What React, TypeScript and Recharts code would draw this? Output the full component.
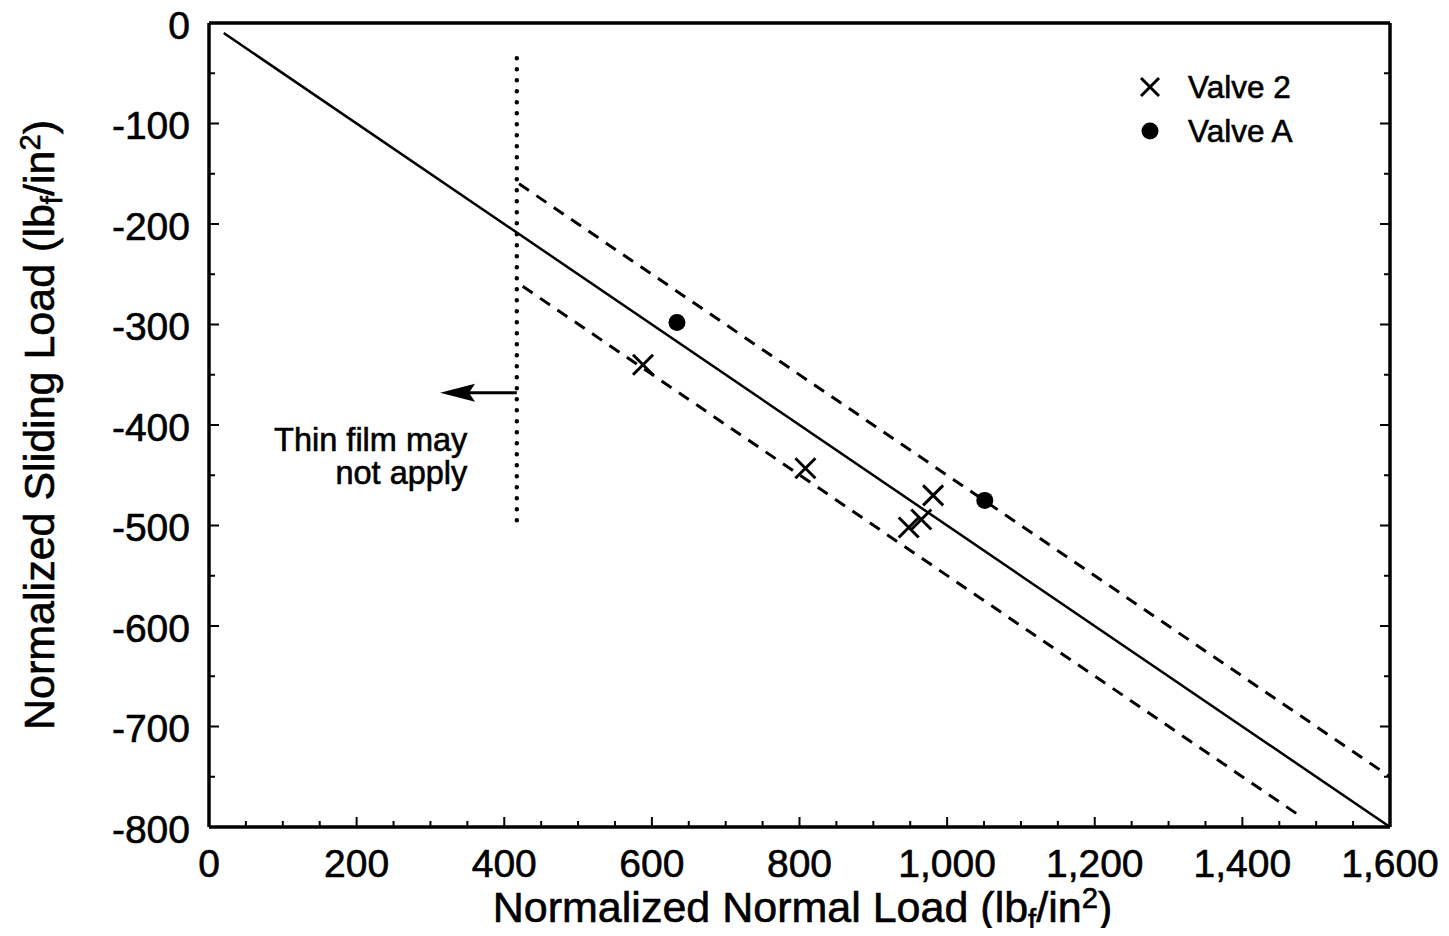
import React from "react";
import { ComposedChart, Scatter, XAxis, YAxis, Legend } from "recharts";

const FONT = '"Liberation Sans", Arial, Helvetica, sans-serif';

// tick positions (minor every 50, labelled ones below)
const xTicks = [
  0, 50, 100, 150, 200, 250, 300, 350, 400, 450, 500, 550, 600, 650, 700, 750, 800,
  850, 900, 950, 1000, 1050, 1100, 1150, 1200, 1250, 1300, 1350, 1400, 1450, 1500, 1550, 1600,
];
const xLabelled = [0, 200, 400, 600, 800, 1000, 1200, 1400, 1600];
const yTicks = [
  -800, -750, -700, -650, -600, -550, -500, -450, -400, -350, -300, -250, -200, -150, -100, -50, 0,
];
const yLabelled = [-800, -700, -600, -500, -400, -300, -200, -100, 0];

// measured points
const valve2 = [
  { x: 588, y: -340 },
  { x: 808, y: -443 },
  { x: 981, y: -470 },
  { x: 965, y: -494 },
  { x: 948, y: -502 },
];
const valveA = [
  { x: 634, y: -298 },
  { x: 1051, y: -475 },
];

// fit line and +/- band
const fitLine = [
  { x: 20, y: -10 },
  { x: 1600, y: -800 },
];
const upperBand = [
  { x: 420, y: -160 },
  { x: 1600, y: -750 },
];
const lowerBand = [
  { x: 425, y: -262 },
  { x: 1480, y: -790 },
];

// thin film limit + annotation
const thinFilmLimit = [
  { x: 417, y: -35 },
  { x: 417, y: -500 },
];
const arrowShaft = [
  { x: 417, y: -368 },
  { x: 340, y: -368 },
];
const arrowTip = [{ x: 313, y: -368 }];
const noteAnchor = [{ x: 350, y: -426 }];
const noteLines = ["Thin film may", "not apply"];

// scanned text looks a little heavier than plain Arial
const TXT = { fontFamily: FONT, fill: "#000", stroke: "#000", strokeWidth: 0.6 };

const Empty = () => <g />;

const CrossShape = (p: any) => (
  <g stroke="#000" strokeWidth={3}>
    <line x1={p.cx - 10} y1={p.cy - 10} x2={p.cx + 10} y2={p.cy + 10} />
    <line x1={p.cx - 10} y1={p.cy + 10} x2={p.cx + 10} y2={p.cy - 10} />
  </g>
);

const DotShape = (p: any) => <circle cx={p.cx} cy={p.cy} r={8.5} fill="#000" />;

const ArrowHead = (p: any) => (
  <polygon
    points={`${p.cx},${p.cy} ${p.cx + 35},${p.cy - 9} ${p.cx + 29},${p.cy} ${p.cx + 35},${p.cy + 9}`}
    fill="#000"
  />
);

const NoteText = (p: any) => (
  <text x={p.cx} y={p.cy} textAnchor="end" fontSize={32.5} {...TXT}>
    {noteLines.map((t, i) => (
      <tspan key={t} x={p.cx} dy={i === 0 ? 0 : 33}>
        {t}
      </tspan>
    ))}
  </text>
);

const BottomTick = (p: any) => {
  const v = p.payload.value;
  const lab = xLabelled.includes(v);
  return (
    <g>
      <line x1={p.x} x2={p.x} y1={p.y} y2={p.y - (lab ? 10 : 6)} stroke="#000" strokeWidth={2} />
      {lab && (
        <text x={p.x} y={p.y + 50} textAnchor="middle" fontSize={39} {...TXT}>
          {v.toLocaleString("en-US")}
        </text>
      )}
    </g>
  );
};

const TopTick = (p: any) => {
  const lab = xLabelled.includes(p.payload.value);
  return <line x1={p.x} x2={p.x} y1={p.y} y2={p.y + (lab ? 10 : 6)} stroke="#000" strokeWidth={2} />;
};

const LeftTick = (p: any) => {
  const v = p.payload.value;
  const lab = yLabelled.includes(v);
  return (
    <g>
      <line x1={p.x} x2={p.x + (lab ? 10 : 6)} y1={p.y} y2={p.y} stroke="#000" strokeWidth={2} />
      {lab && (
        <text x={p.x - 19} y={p.y} dy="0.41em" textAnchor="end" fontSize={39} {...TXT}>
          {v}
        </text>
      )}
    </g>
  );
};

const RightTick = (p: any) => {
  const lab = yLabelled.includes(p.payload.value);
  return <line x1={p.x} x2={p.x - (lab ? 10 : 6)} y1={p.y} y2={p.y} stroke="#000" strokeWidth={2} />;
};

const UnitText = ({ name }: { name: string }) => (
  <>
    <tspan>{name} (lb</tspan>
    <tspan dy={8} fontSize="68%">f</tspan>
    <tspan dy={-8}>/in</tspan>
    <tspan dy={-14} fontSize="68%">2</tspan>
    <tspan dy={14}>)</tspan>
  </>
);

const XLabel = (p: any) => {
  const vb = p.viewBox;
  return (
    <text x={vb.x + vb.width / 2 + 3} y={vb.y + 95} textAnchor="middle" fontSize={43} {...TXT}>
      <UnitText name="Normalized Normal Load" />
    </text>
  );
};

const YLabel = (p: any) => {
  const vb = p.viewBox;
  const cx = 54;
  const cy = vb.y + vb.height / 2;
  return (
    <text x={cx} y={cy} transform={`rotate(-90 ${cx} ${cy})`} textAnchor="middle" fontSize={43} {...TXT}>
      <UnitText name="Normalized Sliding Load" />
    </text>
  );
};

const legendItems = [
  { name: "Valve 2", icon: "cross" },
  { name: "Valve A", icon: "dot" },
];

const LegendBox = () => (
  <div style={{ fontFamily: FONT, fontSize: 31.5, color: "#000", WebkitTextStroke: "0.6px #000" }}>
    {legendItems.map((it) => (
      <div key={it.name} style={{ display: "flex", alignItems: "center", height: 44 }}>
        <svg width={24} height={24} style={{ marginRight: 26 }}>
          {it.icon === "cross" ? (
            <g stroke="#000" strokeWidth={3}>
              <line x1={3} y1={3} x2={21} y2={21} />
              <line x1={3} y1={21} x2={21} y2={3} />
            </g>
          ) : (
            <circle cx={12} cy={12} r={8.5} fill="#000" />
          )}
        </svg>
        <span>{it.name}</span>
      </div>
    ))}
  </div>
);

export default function App() {
  // negative margins cancel the body margin so the chart fills the whole page
  return (
    <div style={{ width: 1441, height: 936, margin: "-8px 0 -8px -8px", background: "#fff" }}>
      <ComposedChart width={1441} height={936} margin={{ top: 22, right: 50, bottom: 8, left: 0 }}>
        <XAxis
          dataKey="x"
          type="number"
          domain={[0, 1600]}
          ticks={xTicks}
          interval={0}
          tickSize={0}
          tickMargin={0}
          tickLine={false}
          tick={<BottomTick />}
          height={101}
          axisLine={{ stroke: "#000", strokeWidth: 3.5 }}
          label={<XLabel />}
          allowDataOverflow
        />
        <XAxis
          xAxisId="top"
          orientation="top"
          type="number"
          domain={[0, 1600]}
          ticks={xTicks}
          interval={0}
          tickSize={0}
          tickMargin={0}
          tickLine={false}
          tick={<TopTick />}
          height={1}
          axisLine={{ stroke: "#000", strokeWidth: 3.5 }}
          allowDataOverflow
        />
        <YAxis
          dataKey="y"
          type="number"
          domain={[-800, 0]}
          ticks={yTicks}
          interval={0}
          tickSize={0}
          tickMargin={0}
          tickLine={false}
          tick={<LeftTick />}
          width={209}
          axisLine={{ stroke: "#000", strokeWidth: 3.5 }}
          label={<YLabel />}
          allowDataOverflow
        />
        <YAxis
          yAxisId="right"
          orientation="right"
          type="number"
          domain={[-800, 0]}
          ticks={yTicks}
          interval={0}
          tickSize={0}
          tickMargin={0}
          tickLine={false}
          tick={<RightTick />}
          width={1}
          axisLine={{ stroke: "#000", strokeWidth: 3.5 }}
          allowDataOverflow
        />
        <Legend
          layout="vertical"
          align="center"
          verticalAlign="middle"
          content={<LegendBox />}
          wrapperStyle={{ top: 65, left: 1138, width: 220 }}
        />
        <Scatter
          name="fit"
          data={fitLine}
          line={{ stroke: "#000", strokeWidth: 2.5 }}
          shape={<Empty />}
          isAnimationActive={false}
          legendType="none"
        />
        <Scatter
          name="upper"
          data={upperBand}
          line={{ stroke: "#000", strokeWidth: 3, strokeDasharray: "12 9" }}
          shape={<Empty />}
          isAnimationActive={false}
          legendType="none"
        />
        <Scatter
          name="lower"
          data={lowerBand}
          line={{ stroke: "#000", strokeWidth: 3, strokeDasharray: "12 9" }}
          shape={<Empty />}
          isAnimationActive={false}
          legendType="none"
        />
        <Scatter
          name="limit"
          data={thinFilmLimit}
          line={{ stroke: "#000", strokeWidth: 4.5, strokeDasharray: "0 11", strokeLinecap: "round" }}
          shape={<Empty />}
          isAnimationActive={false}
          legendType="none"
        />
        <Scatter
          name="arrow"
          data={arrowShaft}
          line={{ stroke: "#000", strokeWidth: 3 }}
          shape={<Empty />}
          isAnimationActive={false}
          legendType="none"
        />
        <Scatter name="tip" data={arrowTip} shape={<ArrowHead />} isAnimationActive={false} legendType="none" />
        <Scatter name="note" data={noteAnchor} shape={<NoteText />} isAnimationActive={false} legendType="none" />
        <Scatter name="Valve 2" data={valve2} shape={<CrossShape />} isAnimationActive={false} />
        <Scatter name="Valve A" data={valveA} shape={<DotShape />} isAnimationActive={false} />
      </ComposedChart>
    </div>
  );
}
